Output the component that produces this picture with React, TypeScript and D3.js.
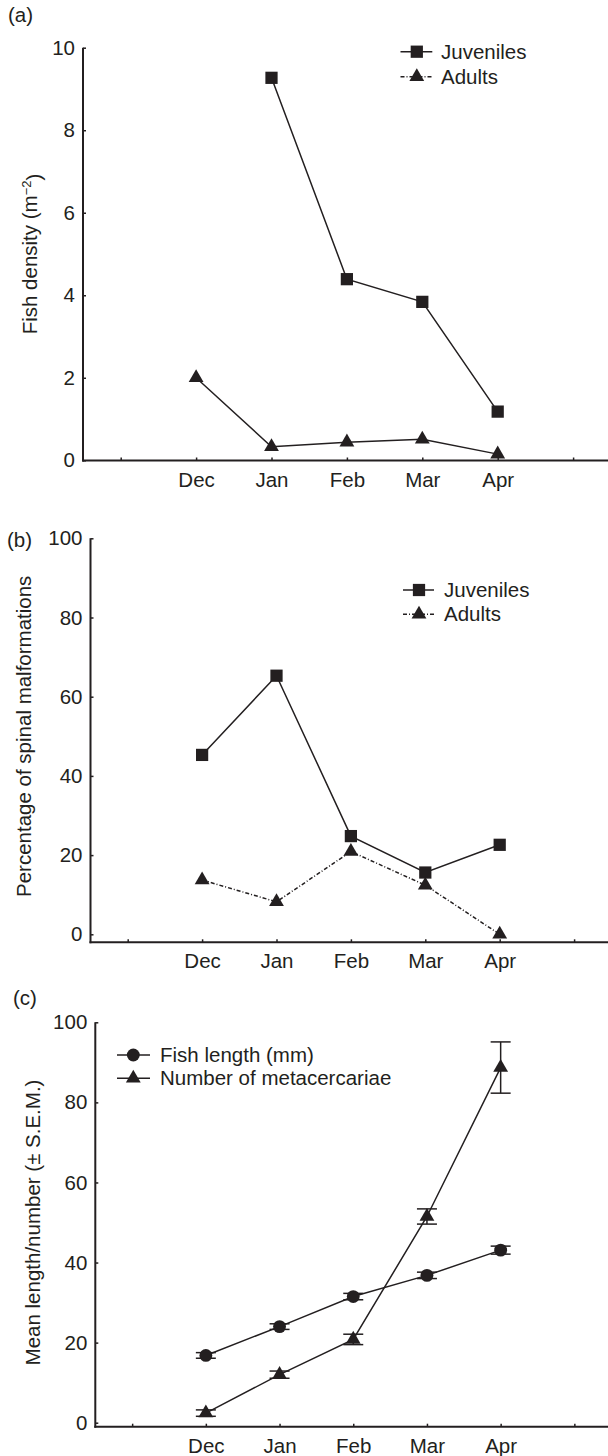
import React, { useEffect, useRef } from 'react';
import * as d3 from 'd3';

// months on the x axis (one blank slot on each side)
const months = ['Dec', 'Jan', 'Feb', 'Mar', 'Apr'];

// (a) fish density, m^-2
const densityJuveniles = [null, 9.27, 4.39, 3.84, 1.18];
const densityAdults = [2.0, 0.33, 0.44, 0.51, 0.15];
const densityTicks = [0, 2, 4, 6, 8, 10];

// (b) percentage of spinal malformations
const malformJuveniles = [45.3, 65.3, 24.8, 15.6, 22.6];
const malformAdults = [13.7, 8.2, 20.9, 12.4, 0];
const percentTicks = [0, 20, 40, 60, 80, 100];

// (c) mean length / number with S.E.M.
const fishLength = [16.8, 24.0, 31.5, 36.8, 43.1];
const fishLengthSem = [0.7, 0.7, 0.8, 0.8, 1.0];
const metacercariae = [2.4, 12.0, 20.8, 51.5, 88.7];
const metacercariaeSem = [0.8, 0.9, 1.3, 1.9, 6.4];

const INK = '#231f20';
const FONT = '"Liberation Sans", Arial, Helvetica, sans-serif';
const FS = 20.5;

const panels = [
  {
    tag: '(a)', tagX: 8, tagY: 15,
    left: 83, step: 75.4, axisY: 460.5, yTop: 47.7, yZero: 460.3, yMax: 10,
    ticks: densityTicks, yLabelX: 30,
    series: [
      { name: 'Juveniles', values: densityJuveniles, symbol: d3.symbolSquare, size: 150, dash: null, legendDash: null },
      { name: 'Adults', values: densityAdults, symbol: d3.symbolTriangle, size: 95, dash: null, legendDash: '4,2,1,2' },
    ],
    legend: { x1: 400.5, x2: 432.3, xm: 416.8, xt: 441, ys: [51.7, 76.7] },
  },
  {
    tag: '(b)', tagX: 7, tagY: 540,
    left: 90.5, step: 74.4, axisY: 942.3, yTop: 538.3, yZero: 934.3, yMax: 100,
    ticks: percentTicks, yLabelX: 24, yLabel: 'Percentage of spinal malformations',
    series: [
      { name: 'Juveniles', values: malformJuveniles, symbol: d3.symbolSquare, size: 150, dash: null, legendDash: null },
      { name: 'Adults', values: malformAdults, symbol: d3.symbolTriangle, size: 95, dash: '4,2,1,2', legendDash: '4,2,1,2' },
    ],
    legend: { x1: 403, x2: 434, xm: 419, xt: 444, ys: [590, 614.3] },
  },
  {
    tag: '(c)', tagX: 13, tagY: 998,
    left: 95.3, step: 73.7, axisY: 1426.7, yTop: 1022.3, yZero: 1422.7, yMax: 100,
    ticks: percentTicks, yLabelX: 33, yLabel: 'Mean length/number (± S.E.M.)',
    series: [
      { name: 'Fish length (mm)', values: fishLength, sem: fishLengthSem, symbol: d3.symbolCircle, size: 130, dash: null, legendDash: null },
      { name: 'Number of metacercariae', values: metacercariae, sem: metacercariaeSem, symbol: d3.symbolTriangle, size: 95, dash: null, legendDash: null },
    ],
    legend: { x1: 117, x2: 150, xm: 133.3, xt: 160, ys: [1055, 1078.3] },
  },
];

const App = () => {
  const svgRef = useRef(null);

  useEffect(() => {
    const svg = d3.select(svgRef.current);
    svg.selectAll('*').remove();

    panels.forEach((p) => {
      const g = svg.append('g');
      const x = d3.scaleLinear().domain([-1.5, 5.5]).range([p.left, p.left + 7 * p.step]);
      const y = d3.scaleLinear().domain([0, p.yMax]).range([p.yZero, p.yTop]);

      // axes
      const xAxis = d3.axisBottom(x)
        .tickValues([-1, 0, 1, 2, 3, 4, 5])
        .tickFormat((d) => months[d as number] || '')
        .tickSize(-3)
        .tickPadding(11.5);
      const gx = g.append('g').attr('transform', `translate(0,${p.axisY})`).call(xAxis);
      gx.select('.domain').remove();
      gx.selectAll('line').attr('stroke', INK).attr('stroke-width', 1.5);
      gx.selectAll('text').attr('fill', INK).style('font-family', FONT).style('font-size', FS + 'px');

      const yAxis = d3.axisLeft(y).tickValues(p.ticks).tickSize(-3).tickPadding(8);
      const gy = g.append('g').attr('transform', `translate(${p.left},0)`).call(yAxis);
      gy.select('.domain').remove();
      gy.selectAll('line').attr('stroke', INK).attr('stroke-width', 1.5);
      gy.selectAll('text').attr('fill', INK).style('font-family', FONT).style('font-size', FS + 'px');

      g.append('line')
        .attr('x1', p.left).attr('x2', p.left)
        .attr('y1', p.yTop).attr('y2', p.axisY + 1)
        .attr('stroke', INK).attr('stroke-width', 2);
      g.append('line')
        .attr('x1', p.left - 1).attr('x2', 610)
        .attr('y1', p.axisY).attr('y2', p.axisY)
        .attr('stroke', INK).attr('stroke-width', 2);

      // panel tag
      g.append('text')
        .attr('x', p.tagX).attr('y', p.tagY).attr('dy', '0.35em')
        .attr('fill', INK).style('font-family', FONT).style('font-size', FS + 'px')
        .text(p.tag);

      // y label
      const yl = g.append('text')
        .attr('transform', `translate(${p.yLabelX},${(p.yTop + p.yZero) / 2}) rotate(-90)`)
        .attr('text-anchor', 'middle').attr('dy', '0.35em')
        .attr('fill', INK).style('font-family', FONT).style('font-size', FS + 'px');
      if (p.yLabel) {
        yl.text(p.yLabel);
      } else {
        yl.append('tspan').text('Fish density (m');
        yl.append('tspan').attr('dy', '-0.45em').style('font-size', '13px').text('\u22122');
        yl.append('tspan').attr('dy', '0.45em').text(')');
      }

      // series
      p.series.forEach((s) => {
        const pts = s.values
          .map((v, i) => ({ i, v, e: s.sem ? s.sem[i] : 0 }))
          .filter((d) => d.v !== null);

        const line = d3.line<any>().x((d) => x(d.i)).y((d) => y(d.v));
        g.append('path')
          .attr('d', line(pts))
          .attr('fill', 'none')
          .attr('stroke', INK)
          .attr('stroke-width', 1.5)
          .attr('stroke-dasharray', s.dash);

        if (s.sem) {
          pts.forEach((d) => {
            const top = y(d.v + d.e);
            const bot = y(d.v - d.e);
            const cx = x(d.i);
            g.append('line').attr('x1', cx).attr('x2', cx).attr('y1', top).attr('y2', bot)
              .attr('stroke', INK).attr('stroke-width', 1.5);
            [top, bot].forEach((yy) => {
              g.append('line').attr('x1', cx - 10).attr('x2', cx + 10).attr('y1', yy).attr('y2', yy)
                .attr('stroke', INK).attr('stroke-width', 1.5);
            });
          });
        }

        const sym = d3.symbol().type(s.symbol).size(s.size);
        g.selectAll(null)
          .data(pts)
          .enter()
          .append('path')
          .attr('d', sym)
          .attr('transform', (d) => `translate(${x(d.i)},${y(d.v)})`)
          .attr('fill', INK);
      });

      // legend
      p.series.forEach((s, k) => {
        const ly = p.legend.ys[k];
        g.append('line')
          .attr('x1', p.legend.x1).attr('x2', p.legend.x2)
          .attr('y1', ly).attr('y2', ly)
          .attr('stroke', INK).attr('stroke-width', 1.5)
          .attr('stroke-dasharray', s.legendDash);
        g.append('path')
          .attr('d', d3.symbol().type(s.symbol).size(s.size)())
          .attr('transform', `translate(${p.legend.xm},${ly})`)
          .attr('fill', INK);
        g.append('text')
          .attr('x', p.legend.xt).attr('y', ly).attr('dy', '0.35em')
          .attr('fill', INK).style('font-family', FONT).style('font-size', FS + 'px')
          .text(s.name);
      });
    });
  }, []);

  return (
    <svg
      ref={svgRef}
      width="608"
      height="1456"
      style={{ position: 'absolute', left: 0, top: 0, background: '#fff' }}
    ></svg>
  );
};

export default App;
